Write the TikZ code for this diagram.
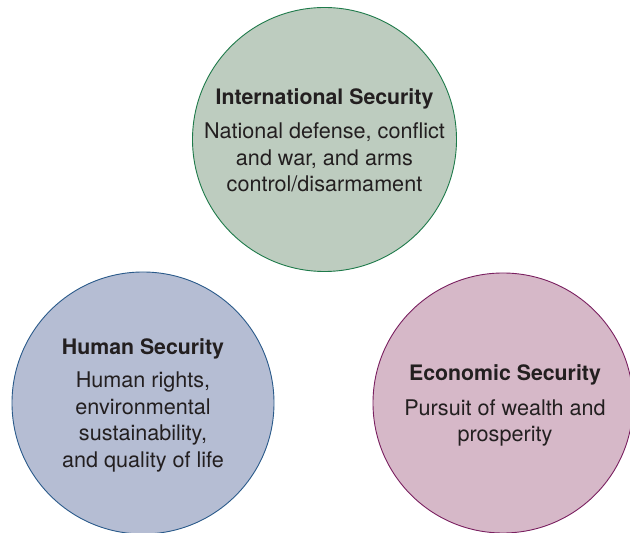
\documentclass[tikz,border=0pt]{standalone}
\usepackage{fontspec}
\setmainfont{TeX Gyre Heros}
\usetikzlibrary{calc}

\definecolor{intlfill}{HTML}{BDCCBF}
\definecolor{intlline}{HTML}{1E7A4A}
\definecolor{humfill}{HTML}{B5BDD3}
\definecolor{humline}{HTML}{2A5A8A}
\definecolor{ecofill}{HTML}{D6B8C8}
\definecolor{ecoline}{HTML}{7A2060}
\definecolor{txt}{HTML}{231F20}

\tikzset{
  zone/.style={circle, draw, line width=0.9pt, minimum size=#1, inner sep=0pt},
  head/.style={text=txt, font=\fontsize{21.3}{26.5}\selectfont\bfseries},
  blurb/.style={text=txt, align=center, font=\fontsize{21.6}{26.5}\selectfont}
}

\begin{document}
\begin{tikzpicture}[x=1pt, y=1pt]
\useasboundingbox (0,0) rectangle (630,533);
% the three security circles
\node[zone=264pt, fill=intlfill, draw=intlline] (intl) at (324.5,393.5) {};
\node[zone=262pt, fill=humfill, draw=humline] (hum) at (143,130) {};
\node[zone=260pt, fill=ecofill, draw=ecoline] (eco) at (503,130) {};
% labels
\node[head] (intlT) at (324.5,434.5) {International Security};
\node[blurb] (intlB) at (324.5,375.5) {National defense, conflict\\and war, and arms\\control/disarmament};
\node[head] (humT) at (143,184.5) {Human Security};
\node[blurb] (humB) at (143,111) {Human rights,\\environmental\\sustainability,\\and quality of life};
\node[head] (ecoT) at (505,158.5) {Economic Security};
\node[blurb] (ecoB) at (505,110) {Pursuit of wealth and\\prosperity};
\end{tikzpicture}
\end{document}
